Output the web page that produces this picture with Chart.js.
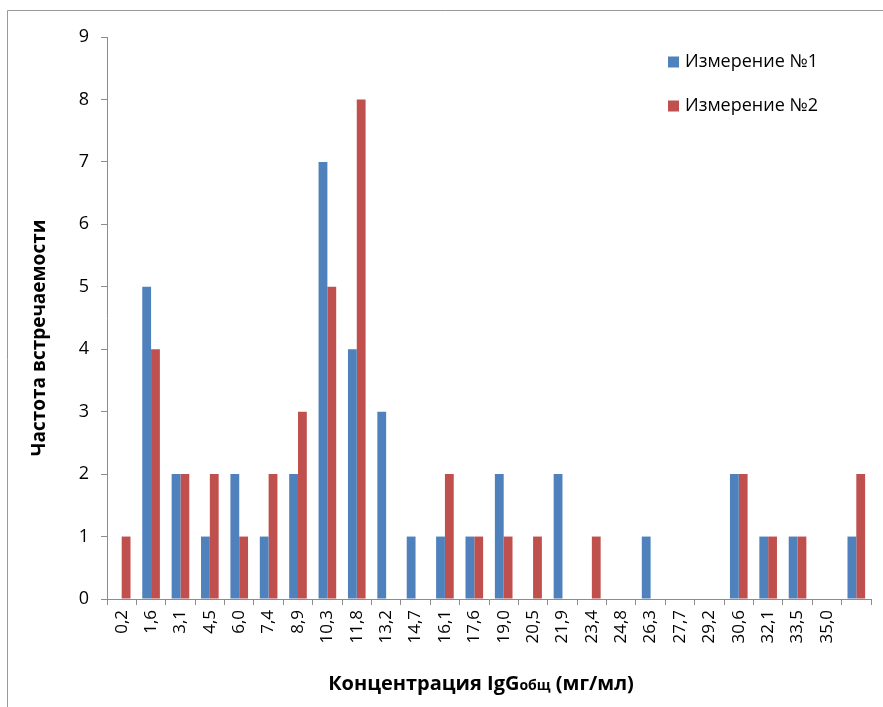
<!DOCTYPE html>
<html>
<head>
<meta charset="utf-8">
<script src="https://cdn.jsdelivr.net/npm/chart.js@4/dist/chart.umd.min.js"></script>
<style>
  html, body { margin: 0; padding: 0; background: #fff; }
  #wrap { width: 883px; height: 707px; position: relative; }
</style>
</head>
<body>
<div id="wrap"><canvas id="c" width="883" height="707"></canvas></div>
<script>
// Концентрация IgG (мг/мл) — границы интервалов
const categories = ['0,2','1,6','3,1','4,5','6,0','7,4','8,9','10,3','11,8','13,2','14,7','16,1','17,6',
  '19,0','20,5','21,9','23,4','24,8','26,3','27,7','29,2','30,6','32,1','33,5','35,0',''];
const seriesNames = ['Измерение №1', 'Измерение №2'];
const measurement1 = [0,5,2,1,2,1,2,7,4,3,1,1,1,2,0,2,0,0,1,0,0,2,1,1,0,1];
const measurement2 = [1,4,2,2,1,2,3,5,8,0,0,2,1,1,1,0,1,0,0,0,0,2,1,1,0,2];
const yTicks = [0,1,2,3,4,5,6,7,8,9];

const FONT = "'Open Sans', 'DejaVu Sans', sans-serif";
const AXIS_GREY = '#8c8c8c';
const COLORS = ['#4f81bd', '#c0504d'];

// frame, axis titles and legend drawn straight onto the canvas
const decorations = {
  id: 'decorations',
  beforeDraw(chart) {
    const ctx = chart.ctx;
    ctx.save();
    ctx.strokeStyle = '#999999';
    ctx.lineWidth = 1;
    ctx.beginPath();
    ctx.moveTo(7.5, 720);
    ctx.lineTo(7.5, 10.5);
    ctx.lineTo(900, 10.5);
    ctx.stroke();
    ctx.restore();
  },
  afterDraw(chart) {
    const ctx = chart.ctx;
    ctx.save();
    ctx.fillStyle = '#000';
    ctx.textBaseline = 'middle';

    // x-axis title with a smaller "общ" index
    const parts = [
      { t: 'Концентрация IgG', f: 'bold 20px ' + FONT, dy: 0 },
      { t: 'общ', f: 'bold 14px ' + FONT, dy: 2 },
      { t: ' (мг/мл)', f: 'bold 20px ' + FONT, dy: 0 }
    ];
    let total = 0;
    parts.forEach(p => { ctx.font = p.f; p.w = ctx.measureText(p.t).width; total += p.w; });
    let x = 481 - total / 2;
    ctx.textAlign = 'left';
    parts.forEach(p => { ctx.font = p.f; ctx.fillText(p.t, x, 684 + p.dy); x += p.w; });

    // y-axis title
    ctx.save();
    ctx.translate(40, 338);
    ctx.rotate(-Math.PI / 2);
    ctx.textAlign = 'center';
    ctx.font = 'bold 19px ' + FONT;
    ctx.fillText('Частота встречаемости', 0, 0);
    ctx.restore();

    // legend
    ctx.font = '18px ' + FONT;
    ctx.textAlign = 'left';
    chart.data.datasets.forEach((ds, i) => {
      const cy = 62 + i * 44;
      ctx.fillStyle = ds.backgroundColor;
      ctx.fillRect(668, cy - 5.5, 11, 11);
      ctx.fillStyle = '#000';
      ctx.fillText(ds.label, 685, cy);
    });
    ctx.restore();
  }
};

new Chart(document.getElementById('c'), {
  type: 'bar',
  data: {
    labels: categories,
    datasets: [
      { label: seriesNames[0], data: measurement1, backgroundColor: COLORS[0] },
      { label: seriesNames[1], data: measurement2, backgroundColor: COLORS[1] }
    ]
  },
  options: {
    responsive: false,
    animation: false,
    devicePixelRatio: 1,
    layout: { padding: { left: 0, top: 37, right: 12, bottom: 0 } },
    datasets: { bar: { categoryPercentage: 0.6, barPercentage: 1.0 } },
    plugins: { legend: { display: false }, tooltip: { enabled: false } },
    scales: {
      x: {
        offset: true,
        grid: { display: true, drawOnChartArea: false, drawTicks: true, tickLength: 6, color: AXIS_GREY, offset: true },
        border: { display: true, color: AXIS_GREY, width: 1 },
        ticks: {
          autoSkip: false, maxRotation: 90, minRotation: 90, padding: 5,
          color: '#000', font: { family: FONT, size: 17 }
        },
        afterFit(scale) { scale.height = 108; }
      },
      y: {
        min: 0, max: 9,
        afterBuildTicks(scale) { scale.ticks = yTicks.map(v => ({ value: v })); },
        grid: { display: true, drawOnChartArea: false, drawTicks: true, tickLength: 6, color: AXIS_GREY },
        border: { display: true, color: AXIS_GREY, width: 1 },
        ticks: { padding: 12, color: '#000', font: { family: FONT, size: 18 } },
        afterFit(scale) { scale.width = 107; }
      }
    }
  },
  plugins: [decorations]
});
</script>
</body>
</html>
